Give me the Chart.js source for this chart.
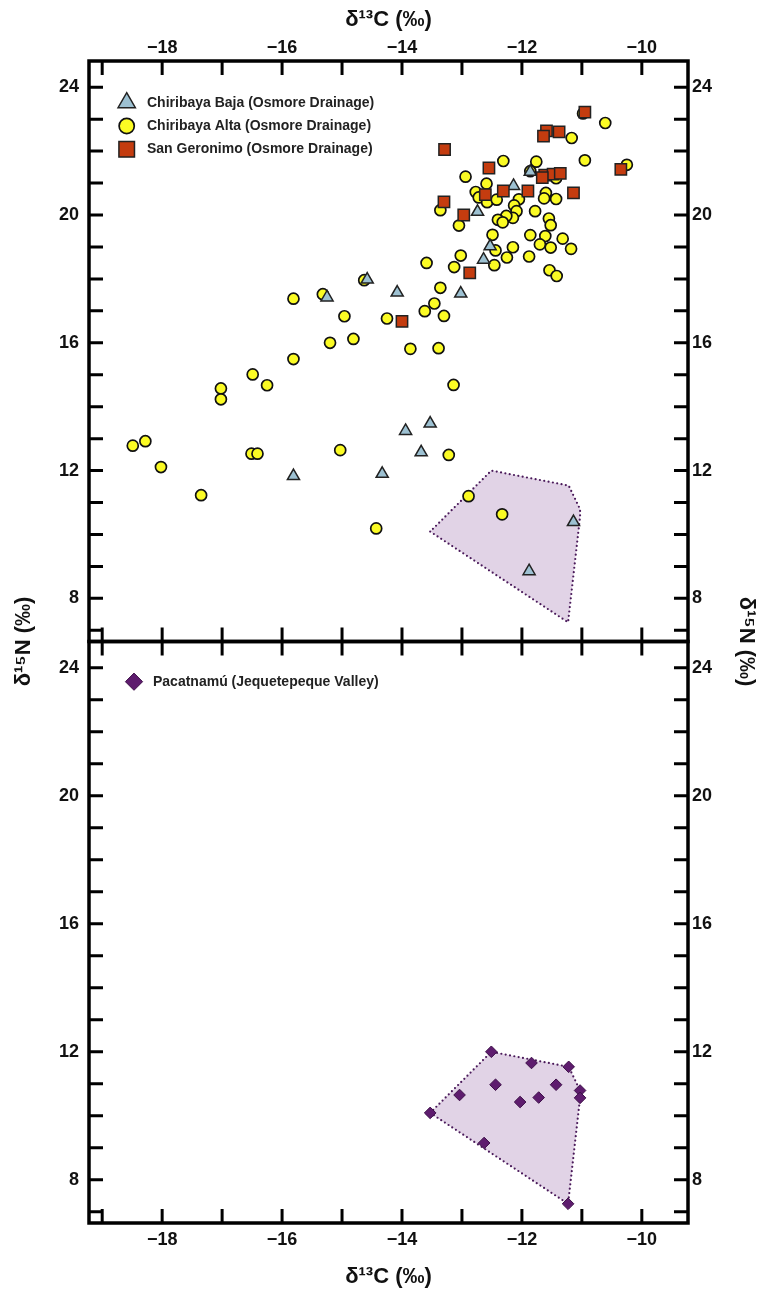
<!DOCTYPE html>
<html>
<head>
<meta charset="utf-8">
<title>δ13C / δ15N</title>
<script src="https://cdn.jsdelivr.net/npm/chart.js@4.4.1/dist/chart.umd.min.js"></script>
<style>
  html, body { margin: 0; padding: 0; background: #fff; }
  #wrap { position: relative; width: 760px; height: 1291px; }
  #wrap canvas { position: absolute; left: 0; top: 0; }
</style>
</head>
<body>
<div id="wrap">
  <canvas id="topPanel" width="760" height="1291"></canvas>
  <canvas id="bottomPanel" width="760" height="1291"></canvas>
</div>
<script>
// values (per mil)

// Chiribaya Baja (Osmore Drainage)
const bajaC = [-11.86, -12.14, -12.74, -12.53, -12.64, -14.58, -15.25, -14.08, -13.02,
               -13.94, -13.53, -13.68, -15.81, -14.33, -11.14, -11.88];
const bajaN = [21.35, 20.91, 20.10, 19.02, 18.60, 17.98, 17.42, 17.57, 17.54,
               13.24, 13.47, 12.57, 11.83, 11.90, 10.39, 8.85];

// Chiribaya Alta (Osmore Drainage)
const altaC = [-10.98, -10.61, -11.17, -11.76, -12.31, -10.95, -10.25, -12.94, -12.59, -11.86,
               -11.43, -12.77, -12.72, -12.58, -12.42, -13.36, -11.60, -11.63, -11.43, -12.05,
               -12.13, -12.09, -12.15, -12.26, -12.40, -12.32, -11.78, -11.55, -11.52, -13.05,
               -12.49, -11.86, -11.61, -11.32, -11.70, -11.52, -11.18, -12.15, -12.44, -11.88,
               -12.25, -13.02, -13.59, -13.13, -12.46, -11.54, -11.42, -13.36, -14.63, -15.32,
               -15.81, -13.46, -13.62, -13.30, -14.25, -14.96, -14.81, -15.20, -13.86, -13.39,
               -15.81, -16.49, -16.25, -17.02, -17.02, -13.14, -18.49, -18.28, -18.02, -16.51,
               -16.41, -15.03, -13.22, -17.35, -12.89, -12.33, -14.43];
const altaN = [23.18, 22.88, 22.41, 21.67, 21.69, 21.71, 21.57, 21.20, 20.98, 21.37,
               21.15, 20.72, 20.55, 20.40, 20.48, 20.15, 20.69, 20.52, 20.50, 20.49,
               20.30, 20.12, 19.91, 19.97, 19.85, 19.77, 20.12, 19.89, 19.68, 19.67,
               19.38, 19.37, 19.34, 19.26, 19.08, 18.98, 18.94, 18.99, 18.89, 18.70,
               18.67, 18.73, 18.50, 18.37, 18.43, 18.27, 18.09, 17.72, 17.96, 17.52,
               17.38, 17.23, 16.99, 16.84, 16.76, 16.83, 16.12, 16.00, 15.81, 15.83,
               15.49, 15.01, 14.67, 14.57, 14.23, 14.68, 12.78, 12.92, 12.11, 12.53,
               12.53, 12.64, 12.49, 11.23, 11.20, 10.63, 10.19];

// San Geronimo (Osmore Drainage)
const geronimoC = [-10.95, -11.59, -11.38, -11.64, -13.29, -12.55, -11.62, -11.48, -11.36, -11.66,
                   -10.35, -11.14, -11.90, -12.31, -12.61, -13.30, -12.97, -12.87, -14.00];
const geronimoN = [23.22, 22.63, 22.60, 22.47, 22.05, 21.47, 21.25, 21.28, 21.30, 21.17,
                   21.43, 20.69, 20.75, 20.75, 20.64, 20.41, 20.00, 18.19, 16.67];

// Pacatnamú (Jequetepeque Valley)
const pacatC = [-12.51, -11.84, -11.22, -12.44, -11.43, -11.03, -11.03, -13.04, -11.72,
                -12.03, -13.53, -12.63, -11.23];
const pacatN = [12.00, 11.65, 11.53, 10.97, 10.97, 10.79, 10.56, 10.65, 10.57,
                10.43, 10.09, 9.15, 7.25];

// axes
const xMin = -19.22, xMax = -9.23;
const yMin = 6.65, yMax = 24.82;
const xLabelled = [-18, -16, -14, -12, -10];
const yLabelled = [8, 12, 16, 20, 24];


const FONT = "'Liberation Sans', Arial, sans-serif";
const tickFont = { family: FONT, size: 18, weight: 'bold', lineHeight: 1.2 };
const titleFont = { family: FONT, size: 22, weight: 'bold', lineHeight: 1.2 };

function points(xs, ys){
    return xs.map((x, i) => ({ x: x, y: ys[i] }));
}

// convex hull of the Pacatnamú points (monotone chain), closed
function hullOf(xs, ys){
    const p = xs.map((x, i) => [x, ys[i]]).sort((a, b) => a[0] - b[0] || a[1] - b[1]);
    const cross = (o, a, b) => (a[0] - o[0]) * (b[1] - o[1]) - (a[1] - o[1]) * (b[0] - o[0]);
    const lower = [], upper = [];
    for (const q of p){
        while (lower.length >= 2 && cross(lower[lower.length - 2], lower[lower.length - 1], q) <= 0) lower.pop();
        lower.push(q);
    }
    for (let i = p.length - 1; i >= 0; i--){
        const q = p[i];
        while (upper.length >= 2 && cross(upper[upper.length - 2], upper[upper.length - 1], q) <= 0) upper.pop();
        upper.push(q);
    }
    lower.pop(); upper.pop();
    const h = lower.concat(upper);
    h.push(h[0]);
    return h.map(q => ({ x: q[0], y: q[1] }));
}

function hullDataset(){
    return {
        type: 'line',
        label: 'hull',
        data: hullOf(pacatC, pacatN),
        showLine: true,
        fill: 'shape',
        tension: 0,
        pointRadius: 0,
        borderColor: '#4a1a5a',
        borderWidth: 2.2,
        borderDash: [0, 4.4],
        borderCapStyle: 'round',
        backgroundColor: '#e1d3e6',
        order: 5,
        noLegend: true
    };
}

function xAxis(pos, labels, boxH){
    return {
        type: 'linear', position: pos, min: xMin, max: xMax,
        grid: { display: false, drawTicks: false },
        border: { display: false },
        ticks: {
            display: labels, stepSize: 1, includeBounds: false, autoSkip: false, maxRotation: 0,
            padding: pos === 'top' ? 2 : 6, color: '#111', font: tickFont,
            callback: v => xLabelled.includes(v) ? '\u2212' + Math.abs(v) : ''
        },
        title: {
            display: labels, text: 'δ¹³C (‰)', color: '#111', font: titleFont,
            padding: pos === 'top' ? { top: 7, bottom: 0 } : { top: 0, bottom: 1 }
        },
        afterFit: s => { s.height = boxH; }
    };
}

function yAxis(pos, boxW){
    return {
        type: 'linear', position: pos, min: yMin, max: yMax,
        grid: { display: false, drawTicks: false },
        border: { display: false },
        ticks: {
            stepSize: 1, includeBounds: false, autoSkip: false,
            padding: pos === 'left' ? 10 : 4, color: '#111', font: tickFont,
            callback: v => yLabelled.includes(v) ? String(v) : ''
        },
        afterFit: s => { s.width = boxW; }
    };
}

// frame and inward tick marks at every whole unit
const frameTicks = {
    id: 'frameTicks',
    afterDraw(chart){
        const ctx = chart.ctx, a = chart.chartArea;
        const xs = chart.scales.x, ys = chart.scales.y;
        const len = 14;
        ctx.save();
        ctx.strokeStyle = '#000';
        ctx.lineWidth = 3;
        ctx.beginPath();
        xs.ticks.forEach(t => {
            const px = xs.getPixelForValue(t.value);
            ctx.moveTo(px, a.top); ctx.lineTo(px, a.top + len);
            ctx.moveTo(px, a.bottom); ctx.lineTo(px, a.bottom - len);
        });
        ys.ticks.forEach(t => {
            const py = ys.getPixelForValue(t.value);
            ctx.moveTo(a.left, py); ctx.lineTo(a.left + len, py);
            ctx.moveTo(a.right, py); ctx.lineTo(a.right - len, py);
        });
        ctx.stroke();
        ctx.lineWidth = 3.5;
        ctx.strokeRect(a.left, a.top, a.right - a.left, a.bottom - a.top);
        ctx.restore();
    }
};

// legend inside the panel, drawn from the dataset styles
const panelLegend = {
    id: 'panelLegend',
    afterDraw(chart, args, opts){
        const ctx = chart.ctx, a = chart.chartArea;
        const items = chart.data.datasets.filter(d => !d.noLegend);
        items.forEach((d, i) => {
            const y = a.top + opts.top + i * opts.gap;
            ctx.save();
            ctx.fillStyle = d.backgroundColor;
            ctx.strokeStyle = d.borderColor;
            ctx.lineWidth = d.borderWidth;
            Chart.helpers.drawPoint(ctx, {
                pointStyle: d.pointStyle, radius: d.legendRadius, rotation: 0, borderWidth: d.borderWidth
            }, a.left + opts.markerX, y);
            ctx.fillStyle = '#222';
            ctx.font = 'bold 14px ' + FONT;
            ctx.textAlign = 'left';
            ctx.textBaseline = 'middle';
            ctx.fillText(d.label, a.left + opts.textX, y);
            ctx.restore();
        });
    }
};

// δ15N titles span both panels, centred on the divider
const sideTitles = {
    id: 'sideTitles',
    afterDraw(chart){
        const ctx = chart.ctx;
        const cy = chart.chartArea.top;
        [[24, -Math.PI / 2], [746, Math.PI / 2]].forEach(([x, rot]) => {
            ctx.save();
            ctx.fillStyle = '#111';
            ctx.font = 'bold 22px ' + FONT;
            ctx.textAlign = 'center';
            ctx.textBaseline = 'middle';
            ctx.translate(x, cy);
            ctx.rotate(rot);
            ctx.fillText('δ¹⁵N (‰)', 0, 0);
            ctx.restore();
        });
    }
};

const common = {
    responsive: false,
    animation: false,
    layout: { padding: 0 },
    events: []
};

new Chart(document.getElementById('topPanel'), {
    type: 'scatter',
    data: {
        datasets: [
            {
                label: 'Chiribaya Baja (Osmore Drainage)',
                data: points(bajaC, bajaN),
                pointStyle: 'triangle', pointRadius: 7, legendRadius: 10,
                backgroundColor: '#9dc1d2', borderColor: '#222', borderWidth: 1.5,
                order: 1
            },
            {
                label: 'Chiribaya Alta (Osmore Drainage)',
                data: points(altaC, altaN),
                pointStyle: 'circle', pointRadius: 5.5, legendRadius: 7.6,
                backgroundColor: '#fbfb24', borderColor: '#111', borderWidth: 1.7,
                order: 2
            },
            {
                label: 'San Geronimo (Osmore Drainage)',
                data: points(geronimoC, geronimoN),
                pointStyle: 'rect', pointRadius: 8, legendRadius: 11,
                backgroundColor: '#c43c0f', borderColor: '#222', borderWidth: 1.5,
                order: 0
            },
            hullDataset()
        ]
    },
    options: Object.assign({}, common, {
        scales: {
            x: xAxis('top', true, 61),
            x2: xAxis('bottom', false, 1291 - 641.5),
            y: yAxis('left', 89),
            y2: yAxis('right', 72)
        },
        plugins: {
            legend: { display: false },
            tooltip: { enabled: false },
            panelLegend: { top: 41.7, gap: 23.3, markerX: 37.7, textX: 58 }
        }
    }),
    plugins: [frameTicks, panelLegend]
});

new Chart(document.getElementById('bottomPanel'), {
    type: 'scatter',
    data: {
        datasets: [
            {
                label: 'Pacatnamú (Jequetepeque Valley)',
                data: points(pacatC, pacatN),
                pointStyle: 'rectRot', pointRadius: 5.8, legendRadius: 8.6,
                backgroundColor: '#5e1c6e', borderColor: '#3d0f48', borderWidth: 1,
                order: 0
            },
            hullDataset()
        ]
    },
    options: Object.assign({}, common, {
        scales: {
            x: xAxis('bottom', true, 1291 - 1223),
            x2: xAxis('top', false, 641.5),
            y: yAxis('left', 89),
            y2: yAxis('right', 72)
        },
        plugins: {
            legend: { display: false },
            tooltip: { enabled: false },
            panelLegend: { top: 40.2, gap: 23.3, markerX: 45, textX: 64 }
        }
    }),
    plugins: [frameTicks, panelLegend, sideTitles]
});
</script>
</body>
</html>
